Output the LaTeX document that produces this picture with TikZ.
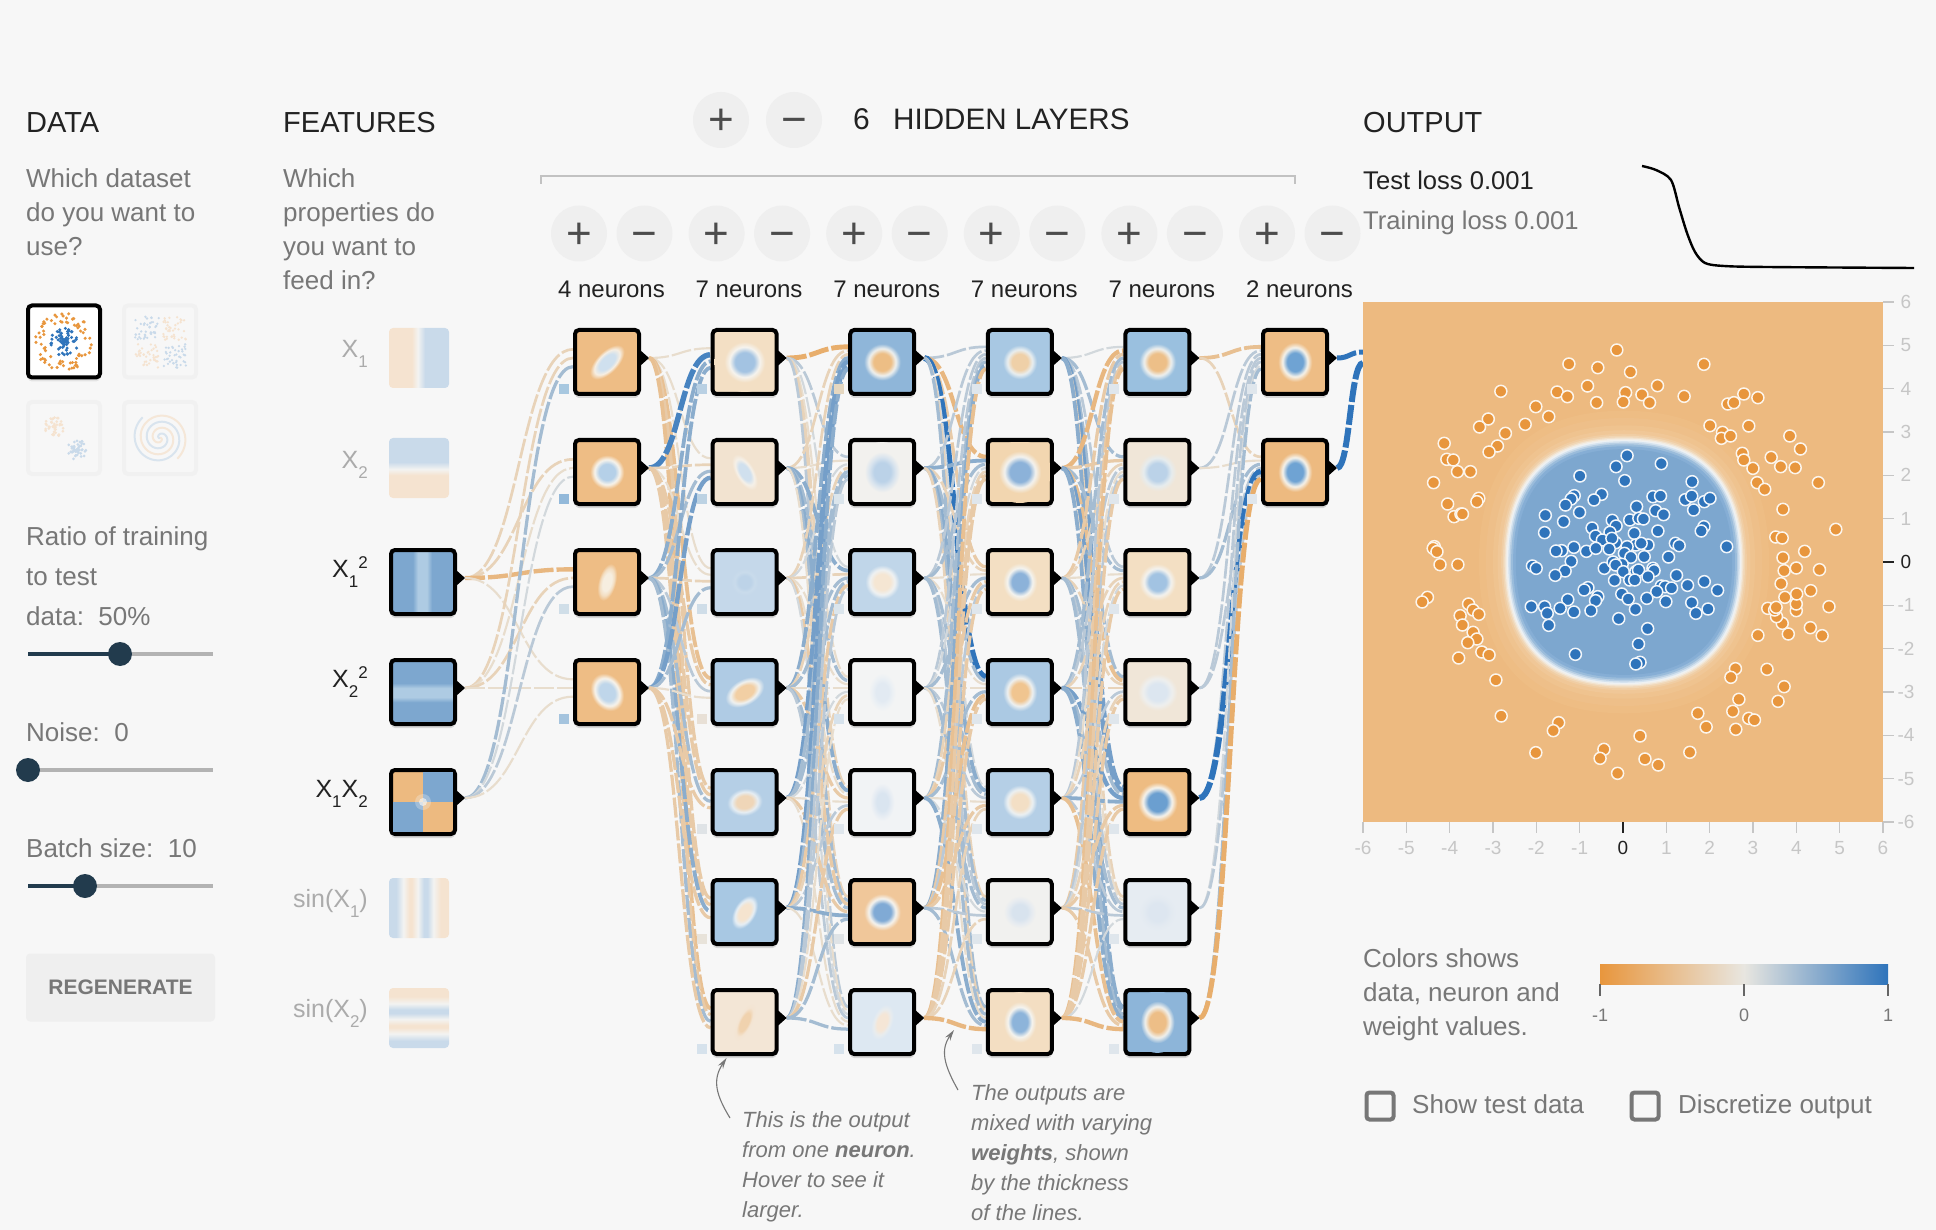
\documentclass[tikz,border=0pt]{standalone}
\usepackage{fontspec}
\setmainfont{Liberation Sans}
\usetikzlibrary{arrows.meta,shadows}

\definecolor{pagecol}{HTML}{F7F7F7}
\definecolor{headcol}{HTML}{222222}
\definecolor{bodycol}{HTML}{777777}
\definecolor{palecol}{HTML}{ABABAB}
\definecolor{btncol}{HTML}{EFEFEF}
\definecolor{tickcol}{HTML}{C6C6C6}
\definecolor{slidecol}{HTML}{223B4D}
\definecolor{trackcol}{HTML}{B3B3B3}
\definecolor{dotor}{HTML}{E8963D}
\definecolor{dotbl}{HTML}{2F74BB}
\definecolor{mapor}{HTML}{EDBA80}
\definecolor{mapbl}{HTML}{7DA7CF}
\definecolor{mapli}{HTML}{AECBE3}
\definecolor{paleor}{HTML}{F5E3D0}
\definecolor{palebl}{HTML}{C9DAEA}
\definecolor{palewh}{HTML}{F3F3F1}
\definecolor{wneg}{HTML}{E89B45}
\definecolor{wpos}{HTML}{2F74BB}
\definecolor{wzero}{HTML}{E8E6E0}
\definecolor{blobcore}{HTML}{FFFFFF}
\definecolor{blobring}{HTML}{FFFFFF}
\definecolor{blobbg}{HTML}{FFFFFF}

\pgfdeclareradialshading[blobcore,blobring,blobbg]{blobshade}{\pgfpointorigin}{color(0bp)=(blobcore); color(8bp)=(blobcore); color(12.5bp)=(blobring); color(17bp)=(blobbg); color(50bp)=(blobbg)}
\pgfdeclarehorizontalshading{xone}{100bp}{color(0bp)=(paleor); color(44bp)=(paleor); color(49bp)=(palewh); color(55bp)=(palebl); color(100bp)=(palebl)}
\pgfdeclarehorizontalshading{xsq}{100bp}{color(0bp)=(mapbl); color(42bp)=(mapbl); color(46bp)=(mapli); color(53bp)=(mapli); color(57bp)=(mapbl); color(100bp)=(mapbl)}
\pgfdeclarehorizontalshading{xsin}{100bp}{color(0bp)=(palebl); color(31bp)=(palebl); color(37bp)=(palewh); color(42bp)=(paleor); color(44bp)=(paleor); color(49bp)=(palewh); color(54bp)=(palebl); color(57bp)=(palebl); color(62bp)=(palewh); color(68bp)=(paleor); color(100bp)=(paleor)}

\pgfdeclarelayer{links}
\pgfsetlayers{links,main}

\newcommand{\sbs}[1]{\raisebox{-10pt}{\fontsize{17}{17}\selectfont #1}}
\newcommand{\sps}[1]{\raisebox{9pt}{\fontsize{17}{17}\selectfont #1}}

\tikzset{
  heading/.style={font=\fontsize{29}{34}\selectfont,text=headcol,inner sep=0pt,anchor=base west},
  para/.style={font=\fontsize{26}{34}\selectfont,text=bodycol,inner sep=0pt,anchor=north west,align=left},
  oneline/.style={font=\fontsize{26}{34}\selectfont,text=bodycol,inner sep=0pt,anchor=base west},
  notetext/.style={font=\fontsize{22}{30}\selectfont\itshape,text=bodycol,inner sep=0pt,anchor=north west,align=left},
  featlabel/.style={font=\fontsize{25}{30}\selectfont,text=palecol,inner sep=0pt,anchor=base east},
  neuronbox/.style={draw=black,line width=4pt,rounded corners=4pt,minimum size=64pt,inner sep=0pt,
    drop shadow={shadow xshift=0pt,shadow yshift=-4pt,opacity=.13,fill=black}},
  featoff/.style={shade,rounded corners=4pt,minimum size=60pt,inner sep=0pt},
  thumbon/.style={draw=black,fill=white,line width=4pt,rounded corners=4pt,minimum size=72pt,inner sep=0pt,
    drop shadow={shadow xshift=0pt,shadow yshift=-4pt,opacity=.08,fill=black}},
  thumboff/.style={draw=btncol!70!pagecol,fill=pagecol,line width=4pt,rounded corners=4pt,minimum size=72pt,inner sep=0pt},
  btn/.style={circle,fill=btncol,minimum size=56pt,inner sep=0pt,text=black!70,
    font=\fontsize{44}{44}\selectfont,text height=30pt,text depth=0pt},
  neuronlabel/.style={font=\fontsize{24}{28}\selectfont,text=headcol,inner sep=0pt,anchor=base},
  wlink/.style={dash pattern=on 20pt off 3pt},
  notearrow/.style={draw=bodycol,line width=1.1pt,-{Stealth[length=11pt,width=6pt]}},
  checkbox/.style={draw=bodycol,line width=4pt,rounded corners=3pt,minimum size=27pt,inner sep=0pt},
}

\newcommand{\weightlink}[6]{%
  \pgfmathtruncatemacro\wmix{min(abs(#5)*12.5,100)}
  \pgfmathsetmacro\wwidth{1.6+0.55*abs(#5)}
  \pgfmathsetmacro\woff{(#3-(#4-1)/2)/#4*26}
  \ifnum#5<0 \colorlet{wcol}{wneg!\wmix!wzero}\else\colorlet{wcol}{wpos!\wmix!wzero}\fi
  \draw[wlink,draw=wcol,line width=\wwidth pt] ([shift={(8,-4)}]#1.east) .. controls +(#6,0) and +(-#6,0) .. ([shift={(0,\woff-4)}]#2.west);
}
\newcommand{\weightlayer}[5]{%
  \foreach \srow [count=\s from 0] in {#5} {
    \foreach \w [count=\t from 0] in \srow {
      \weightlink{n#1-\s}{n#2-\t}{\s}{#3}{\w}{#4}
    }
  }
}

\begin{document}
\begin{tikzpicture}[x=1pt,y=-1pt]

\begin{pgfonlayer}{links}
\fill[pagecol] (0,0) rectangle (1936,1230);
\end{pgfonlayer}
\useasboundingbox (0,0) rectangle (1936,1230);

% left column
\node[heading] (datahead) at (26,133) {DATA};
\node[para] (dataask) at (26,168) {Which dataset\\do you want to\\use?};

\node[thumbon] (tcircle) at (64,341.5) {};
\node[thumboff] (txor) at (160,341.5) {};
\node[thumboff] (tgauss) at (64,438) {};
\node[thumboff] (tspiral) at (160,438) {};

\pgfmathsetseed{17}
\foreach \i in {1,...,75} {
  \pgfmathsetmacro\ang{rnd*360}
  \pgfmathsetmacro\rad{rnd*14}
  \fill[dotbl] ({64+\rad*cos(\ang)},{342+\rad*sin(\ang)}) circle[radius=1.7pt];
  \pgfmathsetmacro\ang{rnd*360}
  \pgfmathsetmacro\rad{19+rnd*10}
  \fill[dotor] ({64+\rad*cos(\ang)},{342+\rad*sin(\ang)}) circle[radius=1.7pt];
}
\foreach \qx/\qy/\qc in {147/328/palebl,174/328/paleor,147/356/paleor,174/356/palebl} {
  \foreach \i in {1,...,40} {
    \fill[\qc] ({\qx-12+rnd*24},{\qy-12+rnd*24}) circle[radius=1.3pt];
  }
}
\foreach \i in {1,...,50} {
  \pgfmathsetmacro\ang{rnd*360}
  \pgfmathsetmacro\rad{rnd*10}
  \fill[paleor] ({54+\rad*cos(\ang)},{427+\rad*sin(\ang)}) circle[radius=1.5pt];
  \pgfmathsetmacro\ang{rnd*360}
  \pgfmathsetmacro\rad{rnd*10}
  \fill[palebl] ({77+\rad*cos(\ang)},{450+\rad*sin(\ang)}) circle[radius=1.5pt];
}
\draw[palebl!65!pagecol,line width=2pt] plot[smooth,domain=0:800,samples=70] ({160+\x/800*27*cos(\x+150)},{438+\x/800*27*sin(\x+150)});
\draw[paleor!80!pagecol,line width=2pt] plot[smooth,domain=0:800,samples=70] ({160+\x/800*27*cos(\x-30)},{438+\x/800*27*sin(\x-30)});

\node[para,font=\fontsize{26}{40}\selectfont] (ratiotext) at (26,526) {Ratio of training\\to test\\data:\ \ 50\%};
\node[oneline] (noisetext) at (26,741) {Noise:\ \ 0};
\node[oneline] (batchtext) at (26,857) {Batch size:\ \ 10};

\foreach \sy/\sx in {654/120,770/28,886/85} {
  \draw[trackcol,line width=4pt] (28,\sy) -- (213,\sy);
  \draw[slidecol,line width=4pt] (28,\sy) -- (\sx,\sy);
  \fill[slidecol] (\sx,\sy) circle[radius=12pt];
}

\node[fill=btncol,rounded corners=4pt,minimum width=189pt,minimum height=68pt,inner sep=0pt,
  text=bodycol,font=\fontsize{21}{24}\selectfont\bfseries] (regen) at (120.5,987.5) {REGENERATE};

% features
\node[heading] (feathead) at (283,133) {FEATURES};
\node[para] (featask) at (283,168) {Which\\properties do\\you want to\\feed in?};

\node[featoff,shading=xone] (fxone) at (419,358) {};
\node[featoff,shading=xone,shading angle=90] (fxtwo) at (419,468) {};
\node[neuronbox,shade,shading=xsq] (n0-0) at (423,582) {};
\node[neuronbox,shade,shading=xsq,shading angle=90] (n0-1) at (423,692) {};
\node[neuronbox,fill=mapor] (n0-2) at (423,802) {};
\begin{scope}
  \clip (393,772) rectangle (453,832);
  \fill[mapbl] (423,772) rectangle (453,802);
  \fill[mapbl] (393,802) rectangle (423,832);
  \fill[palewh,opacity=.3] (423,802) circle[radius=8pt];
  \fill[palewh,opacity=.7] (423,802) circle[radius=4pt];
\end{scope}
\node[featoff,shading=xsin] (fsinone) at (419,908) {};
\node[featoff,shading=xsin,shading angle=90] (fsintwo) at (419,1018) {};

\foreach \nm in {n0-0,n0-1,n0-2} {
  \fill (\nm.east) ++(-1,-12) -- ++(9,8) -- ++(-9,8) -- cycle;
}

\node[featlabel] (lxone) at (368,358) {X\sbs{1}};
\node[featlabel] (lxtwo) at (368,468) {X\sbs{2}};
\node[featlabel,text=headcol] (lxonesq) at (368,577) {X\sbs{1}\sps{2}};
\node[featlabel,text=headcol] (lxtwosq) at (368,687) {X\sbs{2}\sps{2}};
\node[featlabel,text=headcol] (lxx) at (368,797) {X\sbs{1}X\sbs{2}};
\node[featlabel] (lsinone) at (368,907) {sin(X\sbs{1})};
\node[featlabel] (lsintwo) at (368,1017) {sin(X\sbs{2})};

% hidden layer header
\node[btn] (addlayer) at (721,120) {+};
\node[btn] (droplayer) at (794,120) {−};
\node[heading,font=\fontsize{30}{34}\selectfont] (layercount) at (853,130) {6};
\node[heading,font=\fontsize{29.6}{34}\selectfont] (layertext) at (893,130) {HIDDEN LAYERS};
\draw[trackcol!80,line width=2pt] (541,184) -- (541,176) -- (1295,176) -- (1295,184);

\foreach \i/\cnt in {0/4,1/7,2/7,3/7,4/7,5/2} {
  \pgfmathsetmacro\bx{579+137.6*\i}
  \pgfmathsetmacro\mx{644.5+137.6*\i}
  \pgfmathsetmacro\lx{611.5+137.6*\i}
  \node[btn] (add\i) at (\bx,233.5) {+};
  \node[btn] (drop\i) at (\mx,233.5) {−};
  \node[neuronlabel] (count\i) at (\lx,298) {\cnt\ neurons};
}

% neurons: column/row/background/core/ring/radii/angle/bias
\foreach \col/\rw/\bg/\core/\ring/\rx/\ry/\rot/\bias in {
  1/0/EEBD85/CFE0EE/F6EEE2/32/16/45/A8C8E0,
  1/1/EEBD85/B5D0E8/F7F3EB/25/25/0/93B9DA,
  1/2/EEBD85/F6EEE0/F3DEC2/28/13/75/D0DEE8,
  1/3/EEBD85/BFD6EA/F7F3EB/29/23/-60/A5C4DE,
  2/0/F3DFC4/A3C3E2/F5F3EE/30/30/0/B9D0E3,
  2/1/F2E3D0/D0E0EE/F5F0E8/29/14/-60/BCD2E3,
  2/2/C5D8EA/BDD3E8/C9DBEB/20/20/0/CFDDE8,
  2/3/AFCBE4/F2CFA4/EFF1F0/31/19/30/E8E0D6,
  2/4/B5CFE6/EFD6B8/E6EDF2/26/20/10/DFE3E6,
  2/5/A8C8E3/F5E4CF/E6EEF4/27/16/60/E8E3DA,
  2/6/F3E6D6/F0D2AE/F3E4D2/31/12/65/D6E2EC,
  3/0/8FB6D9/EDBE85/EEF0EE/27/27/0/E5D7C0,
  3/1/F2F1EE/BBD2E8/D9E4EE/26/30/0/DBE5EC,
  3/2/C0D6E9/F5E6D3/EEF1F2/25/25/0/DBE5EC,
  3/3/F3F4F4/E2EAF2/EBF0F4/20/28/0/D6E2EC,
  3/4/F1F3F5/DAE5F0/E6ECF3/18/28/0/DFE6EC,
  3/5/F0C79A/80AAD5/F5F3EE/27/27/0/DFE3E6,
  3/6/DDE8F2/F5E6D6/E8ECEE/27/15/70/D6E2EC,
  4/0/A8C8E3/EFD0A8/E8EEF0/25/25/0/DFE6EC,
  4/1/F2D6B0/8CB2D9/F3F2EE/31/31/0/DFE6EC,
  4/2/F3DFC3/8CB2D9/F3F3EF/25/28/0/DFE6EC,
  4/3/ABC9E3/F0C590/EDF0F0/25/28/0/DFE6EC,
  4/4/B5CFE6/F3DFC5/EBF0F2/25/25/0/DFE6EC,
  4/5/F1F1EF/D8E3EE/E6EBF0/24/24/0/DFE6EC,
  4/6/F3DEC2/8DB4DA/F4F3EE/24/30/0/DFE6EC,
  5/0/9AC0DF/EDBF88/EEF0EE/27/27/0/DFE6EC,
  5/1/F0E6D8/BBD2E8/E6ECEE/28/28/0/DFE6EC,
  5/2/F3DFC3/A2C3E2/F3F2EE/27/27/0/DFE6EC,
  5/3/F0E6D8/DCE6F0/EEEFEE/29/27/0/DFE6EC,
  5/4/EEBC82/6B9FD0/F6F3EC/29/29/0/DFE6EC,
  5/5/E6ECF2/DDE6F0/E3EAF1/28/28/0/DFE6EC,
  5/6/8DB5D9/EDBE87/F0F0EC/25/31/0/DFE6EC,
  6/0/EEBD85/6FA3D3/F5F2EA/25/29/0/DFE6EC,
  6/1/EDBA80/6FA3D3/F5F2EA/25/29/0/DFE6EC} {
  \pgfmathsetmacro\nx{607+137.6*(\col-1)}
  \pgfmathsetmacro\ny{362+110*\rw}
  \definecolor{blobbg}{HTML}{\bg}
  \definecolor{blobcore}{HTML}{\core}
  \definecolor{blobring}{HTML}{\ring}
  \definecolor{biascol}{HTML}{\bias}
  \node[neuronbox,fill=blobbg] (n\col-\rw) at (\nx,\ny) {};
  \begin{scope}
    \clip (\nx-30,\ny-30) rectangle (\nx+30,\ny+30);
    \shade[shading=blobshade,transform canvas={shift={(\nx,\ny)},rotate=\rot}] (0,0) ellipse (\rx pt and \ry pt);
  \end{scope}
  \fill (n\col-\rw.east) ++(-1,-12) -- ++(9,8) -- ++(-9,8) -- cycle;
  \fill[biascol] (\nx-48,\ny+22) rectangle ++(10,10);
}

% output
\node[fill=mapor,minimum size=520pt,inner sep=0pt] (heatmap) at (1623,562) {};
\foreach \s/\c in {1.24/EEBD84,1.18/EEBF89,1.12/EFC38F,1.08/F0C797,1.05/F0CDA3,1.035/F1D6B4,1.022/F2E1CB,1.012/F3EDE3,1.002/EEF1F3,.99/D5E3EF,.978/B8CFE4,.965/9ABCDB,.948/86AED5,.925/7DA7CF} {
  \definecolor{blobstep}{HTML}{\c}
  \fill[blobstep,shift={(1624,562)},scale=\s] (-117,0) .. controls (-117,-80) and (-78,-122) .. (0,-122)
    .. controls (78,-122) and (117,-80) .. (117,0) .. controls (117,80) and (78,122) .. (0,122)
    .. controls (-78,122) and (-117,80) .. (-117,0) -- cycle;
}
\begin{scope}[shift={(1340,400)},x=0.38023pt,y=-0.33333pt]
\foreach \u/\v in {728/-150,602/-108,678/-97,764/-84,957/-107,423/-26,571/-24,598/-10,651/-42,751/-22,794/-16,835/-43,675/8,745/6,814/8,905/-11,1020/12,1036/8,1062/-18,1099/-7,515/20,549/50,487/73,390/57,367/81,435/100,414/138,392/156,274/130,281/178,298/180,309/215,343/215,246/248,973/77,1006/97,1003/115,1027/108,1075/78,1183/108,1211/147,1058/160,1062/180,1086/205,1134/172,1159/200,1197/203,1258/248,1097/248,1117/268,365/295,360/305,283/312,300/350,318/342,322/342,248/440,245/445,255/455,263/494,310/494,230/592,216/606,338/612,350/630,365/643,316/647,322/675,350/697,360/717,336/728,373/756,392/765,312/774,410/840,424/948,575/968,561/992,515/1058,694/1048,684/1075,730/1120,789/1008,802/1077,837/1095,920/1057,941/940,963/981,1040/806,1028/832,1123/808,1168/860,1152/904,1049/898,1033/934,1075/955,1090/960,1041/988,1099/706,1179/702,1163/670,1148/650,1125/625,1143/630,1147/622,1200/632,1200/612,1201/582,1170/592,1160/551,1168/512,1200/504,1165/473,1222/454,1261/509,1238/572,1286/620,1237/683,1268/707,1304/388,1146/411,1163/414,1165/328} {
  \filldraw[fill=dotor,draw=white!85!mapor,line width=1.5pt] (\u,\v) circle[radius=6pt];
}
\foreach \u/\v in {755/167,726/200,845/191,631/228,749/242,926/245,688/283,668/300,616/287,608/297,593/315,630/337,540/346,588/365,538/398,780/320,823/290,843/288,908/299,925/288,958/305,973/295,930/330,830/332,851/344,762/360,786/355,798/357,716/361,663/384,726/378,710/397,774/400,836/393,957/380,950/393,672/408,690/420,725/428,715/415,615/442,583/452,568/453,648/454,673/445,708/447,778/435,810/435,792/430,882/430,892/437,1017/440,755/440,748/460,765/472,800/470,864/471,608/484,506/498,516/505,592/513,566/526,695/505,718/486,742/493,725/495,745/515,778/515,785/510,823/505,826/512,810/530,885/526,722/541,762/540,775/540,958/545,914/556,845/558,855/560,872/564,833/575,993/571,652/563,642/570,678/590,672/602,741/582,758/597,807/595,857/605,925/608,968/627,936/640,777/628,599/599,503/620,538/620,545/640,579/625,615/636,660/632,733/656,549/676,809/686,785/732,619/763,789/787,778/792} {
  \filldraw[fill=dotbl,draw=white!90!mapbl,line width=1.5pt] (\u,\v) circle[radius=6pt];
}
\end{scope}

\foreach \k in {-6,...,6} {
  \pgfmathsetmacro\tx{1623+43.33*\k}
  \pgfmathsetmacro\ty{562-43.33*\k}
  \ifnum\k=0 \colorlet{axcol}{headcol}\else\colorlet{axcol}{tickcol}\fi
  \draw[axcol,line width=1.2pt] (\tx,822) -- (\tx,833);
  \draw[axcol,line width=1.2pt] (1883,\ty) -- (1894,\ty);
  \node[text=axcol,font=\fontsize{19}{22}\selectfont,inner sep=0pt] (xt\k) at (\tx,848) {\k};
  \node[text=axcol,font=\fontsize{19}{22}\selectfont,inner sep=0pt] (yt\k) at (1906,\ty) {\k};
}

\node[heading] (outhead) at (1363,133) {OUTPUT};
\node[oneline,font=\fontsize{25.6}{30}\selectfont,text=headcol] (testloss) at (1363,190) {Test loss 0.001};
\node[oneline,font=\fontsize{25.6}{30}\selectfont] (trainloss) at (1363,230) {Training loss 0.001};
\draw[black,line width=2.4pt] plot[smooth,tension=.5] coordinates {(1642,166) (1656,170) (1671,180) (1679,207) (1687,233) (1695,252) (1705,263) (1724,266) (1767,267) (1914,268)};

\node[para] (legendtext) at (1363,948) {Colors shows\\data, neuron and\\weight values.};
\node[shade,left color=dotor,right color=dotbl,middle color=wzero,minimum width=288pt,minimum height=20pt,inner sep=0pt] (legendbar) at (1744,974) {};
\foreach \lx/\lt in {1600/-1,1744/0,1888/1} {
  \draw[black!60,line width=1.2pt] (\lx,984) -- (\lx,996);
  \node[text=bodycol,font=\fontsize{18}{20}\selectfont,inner sep=0pt] (leg\lx) at (\lx,1015) {\lt};
}

\node[checkbox] (showbox) at (1380,1106) {};
\node[oneline] (showtext) at (1412,1113) {Show test data};
\node[checkbox] (discbox) at (1645,1106) {};
\node[oneline] (disctext) at (1678,1113) {Discretize output};

% notes
\node[notetext] (noteone) at (742,1111) {This is the output\\from one \textbf{neuron}.\\Hover to see it\\larger.};
\node[notetext] (notetwo) at (971,1084) {The outputs are\\mixed with varying\\\textbf{weights}, shown\\by the thickness\\of the lines.};
\coordinate (noteonefoot) at (730,1118);
\coordinate (noteonetip) at (726.5,1058);
\coordinate (notetwofoot) at (958,1090);
\coordinate (notetwotip) at (954,1030);
\draw[notearrow] (noteonefoot) .. controls (716,1095) and (712,1080) .. (noteonetip);
\draw[notearrow] (notetwofoot) .. controls (944,1065) and (940,1050) .. (notetwotip);

% weights: one row for each source neuron
\coordinate (outone) at (1363,352);
\coordinate (outtwo) at (1363,363);
\begin{pgfonlayer}{links}
\weightlayer{0}{1}{3}{54}{{-2,-2,-5,-1},{-2,-1,-2,-1},{3,1,2,-1}}
\weightlayer{1}{2}{4}{31}{{-1,-1,-1,-4,-3,-3,-4},{7,-2,-1,-3,-3,-3,-3},{4,3,-2,2,3,4,3},{4,5,3,-1,-3,-3,-3}}
\weightlayer{2}{3}{7}{31}{{-6,2,1,-1,-2,-2,2},{-2,-1,4,3,4,3,-1},{-2,1,-2,-1,-1,-3,1},{4,-2,3,-1,-3,3,2},{5,3,3,1,-1,-3,-1},{5,3,-3,-2,2,4,-1},{4,2,2,-1,-3,3,3}}
\weightlayer{3}{4}{7}{31}{{2,-5,-3,8,1,-2,3},{2,4,-2,3,4,3,-2},{2,3,-1,-1,3,2,3},{2,1,3,-1,2,3,-1},{3,-2,-3,3,-1,1,4},{4,-3,2,-4,-3,2,3},{-4,-3,-3,-3,-2,-2,-5}}
\weightlayer{4}{5}{7}{31}{{1,3,2,3,5,-2,4},{-5,-3,3,-4,5,-1,4},{-3,-2,-1,-2,3,2,3},{3,2,-2,-2,5,3,4},{2,-1,-2,2,4,2,-4},{-3,2,1,-2,-3,2,-3},{-4,-3,-3,-3,-3,1,-5}}
\weightlayer{5}{6}{7}{31}{{-4,-2},{2,-1},{2,3},{2,2},{2,8},{1,2},{3,-6}}
\draw[wlink,draw=dotbl,line width=5pt] ([shift={(8,-4)}]n6-0.east) .. controls +(13,0) and +(-13,0) .. (outone);
\draw[wlink,draw=dotbl,line width=6pt] ([shift={(8,-4)}]n6-1.east) .. controls +(13,0) and +(-13,0) .. (outtwo);
\end{pgfonlayer}

\end{tikzpicture}
\end{document}
